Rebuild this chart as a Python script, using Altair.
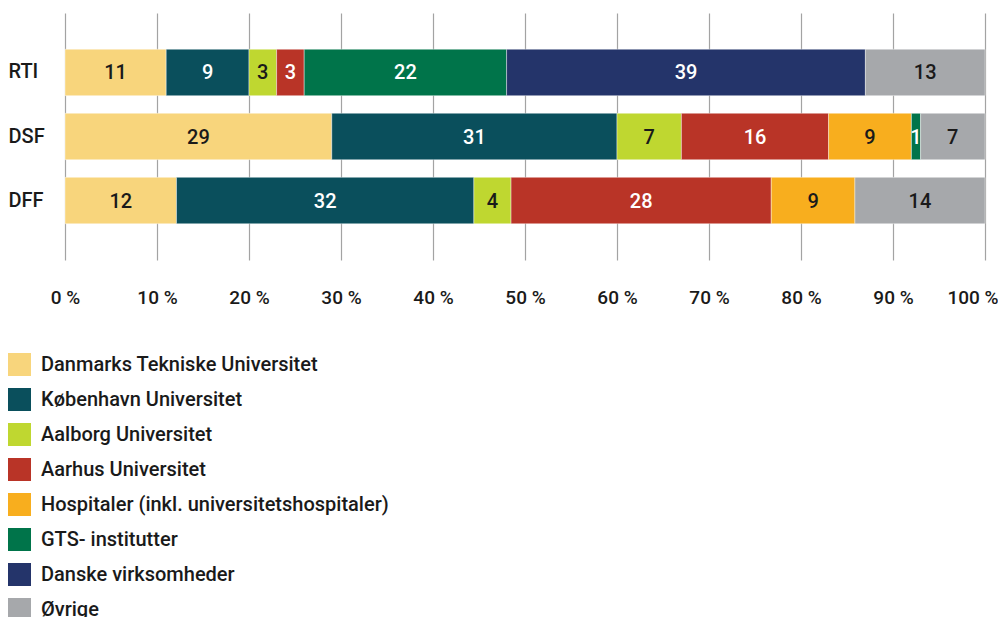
import altair as alt
import pandas as pd

groups = ["RTI", "DSF", "DFF"]
categories = [
    "Danmarks Tekniske Universitet",
    "København Universitet",
    "Aalborg Universitet",
    "Aarhus Universitet",
    "Hospitaler (inkl. universitetshospitaler)",
    "GTS- institutter",
    "Danske virksomheder",
    "Øvrige",
]
rti = [11, 9, 3, 3, None, 22, 39, 13]
dsf = [29, 31, 7, 16, 9, 1, None, 7]
dff = [12, 32, 4, 28, 9, None, None, 14]
colors = ["#F8D57C", "#0A4F5C", "#BFD730", "#B93427", "#F8AE1E", "#00744A", "#24346A", "#A6A8AB"]
label_colors = ["#1a1a1a", "#ffffff", "#1a1a1a", "#ffffff", "#1a1a1a", "#ffffff", "#ffffff", "#1a1a1a"]
x_ticks = [0, 0.1, 0.2, 0.3, 0.4, 0.5, 0.6, 0.7, 0.8, 0.9, 1.0]

rows = []
for g, vals in zip(groups, [rti, dsf, dff]):
    for i, (c, v) in enumerate(zip(categories, vals)):
        if v is None:
            continue
        rows.append({"group": g, "cat": c, "value": v, "order": i, "lc": label_colors[i]})
df = pd.DataFrame(rows)

FONT = "Roboto"
FW = 500

base = alt.Chart(df).transform_joinaggregate(
    total="sum(value)", groupby=["group"]
).transform_window(
    cum="sum(value)", sort=[alt.SortField("order", order="ascending")],
    groupby=["group"], frame=[None, 0]
).transform_calculate(
    start="(datum.cum - datum.value) / datum.total",
    end="datum.cum / datum.total",
    mid="(datum.cum - datum.value / 2) / datum.total",
)

yenc = alt.Y("group:N", sort=groups,
             scale=alt.Scale(paddingInner=0.276, paddingOuter=0.566),
             axis=alt.Axis(title=None, domain=False, ticks=False, tickSize=0,
                           labelAlign="left", labelPadding=57, labelFontSize=20,
                           labelFont=FONT, labelFontWeight=FW, labelColor="#1a1a1a"))

bars = base.mark_bar(stroke="#ffffff", strokeWidth=0.4).encode(
    x=alt.X("start:Q", scale=alt.Scale(domain=[0, 1], nice=False, zero=True),
            axis=alt.Axis(title=None, values=x_ticks, domain=False, ticks=False, tickSize=0,
                          grid=True, gridColor="#A3A3A3", gridWidth=1.2,
                          labelExpr="round(datum.value * 100) + ' %'",
                          labelFlush=False,
                          labelAlign={"condition": {"test": "datum.value === 1", "value": "right"}, "value": "center"},
                          labelOffset={"condition": {"test": "datum.value === 1", "value": 13}, "value": 0},
                          labelPadding=28, labelFontSize=19, labelFont=FONT,
                          labelFontWeight=FW, labelColor="#1a1a1a")),
    x2="end:Q",
    y=yenc,
    color=alt.Color("cat:N", sort=categories,
                    scale=alt.Scale(domain=categories, range=colors),
                    legend=alt.Legend(title=None, orient="none", legendX=-57, legendY=340,
                                      direction="vertical", symbolType="square",
                                      symbolSize=529, symbolStrokeWidth=0, symbolOpacity=1,
                                      labelFontSize=20, labelFont=FONT, labelFontWeight=FW,
                                      labelColor="#1a1a1a", rowPadding=12, labelOffset=10,
                                      labelLimit=600)),
)

texts = base.mark_text(font=FONT, fontSize=20, fontWeight=FW, baseline="middle", align="center", dy=1).encode(
    x="mid:Q",
    y=alt.Y("group:N", sort=groups),
    text="value:Q",
    color=alt.Color("lc:N", scale=None, legend=None),
)

chart = alt.layer(bars, texts).properties(
    width=920, height=247,
    padding={"top": 5, "left": 0, "right": 0, "bottom": 0},
).configure_view(stroke=None)

chart.save("out.html", embed_options={"renderer": "svg", "actions": False})
